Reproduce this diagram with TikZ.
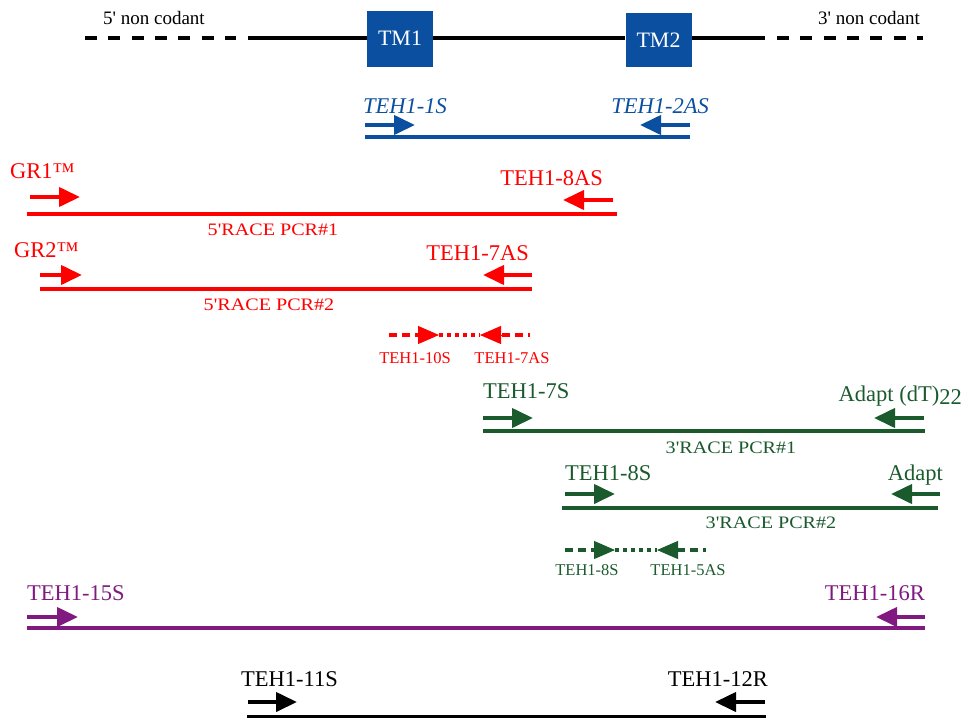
\documentclass[tikz,border=0pt]{standalone}
\usepackage{fontspec}
\setmainfont{Liberation Serif}
\usetikzlibrary{arrows.meta}
\definecolor{tmblue}{HTML}{0B50A0}
\definecolor{rred}{HTML}{FF0000}
\definecolor{rgreen}{HTML}{1A5A2D}
\definecolor{rpurple}{HTML}{801A80}
\tikzset{
  lab/.style={inner sep=0pt, font=\fontsize{22.5}{26}\selectfont},
  smalllab/.style={inner sep=0pt, font=\fontsize{16.5}{19}\selectfont},
  racelab/.style={inner sep=0pt, font=\fontsize{17.5}{20}\selectfont},
  toplab/.style={inner sep=0pt, font=\fontsize{19}{22}\selectfont},
  prim/.style={line width=4pt, -{Triangle[length=21pt,width=19pt]}},
  headonly/.style={line width=1pt, -{Triangle[length=21pt,width=18pt]}},
  amp/.style={line width=3.5pt},
  dashpart/.style={line width=3.5pt, dash pattern=on 8pt off 5pt},
  dotpart/.style={line width=3.5pt, dash pattern=on 4pt off 4pt},
  tmbox/.style={fill=tmblue, draw=none, minimum width=66pt, minimum height=56pt, inner sep=0pt, text=white, font=\fontsize{22}{25}\selectfont}
}
\begin{document}
\begin{tikzpicture}[x=1pt,y=-1pt]
\useasboundingbox (0,0) rectangle (965,718);

% ---------- gene line ----------
\node[tmbox] (tm1) at (400,38.5) {TM1};
\node[tmbox, minimum height=54pt] (tm2) at (658.5,40) {TM2};
\coordinate (d1a) at (85,38);
\coordinate (d1b) at (236,38);
\coordinate (s1) at (248,38);
\coordinate (s2) at (765,38);
\coordinate (d2a) at (777,38);
\coordinate (d2b) at (923,38);
\draw[line width=4pt, dash pattern=on 12pt off 11.3pt] (d1a) -- (d1b);
\draw[line width=4pt] (s1) -- (tm1.west |- s1);
\draw[line width=4pt] (tm1.east |- s1) -- (tm2.west |- s1);
\draw[line width=4pt] (tm2.east |- s1) -- (s2);
\draw[line width=4pt, dash pattern=on 12pt off 11.3pt] (d2a) -- (d2b);
\node[toplab, anchor=base west] (nc5) at (103,24) {5\textquotesingle{} non codant};
\node[toplab, anchor=base east] (nc3) at (920,24) {3\textquotesingle{} non codant};

% ---------- blue ----------
\begin{scope}[color=tmblue]
\node[lab, anchor=base west, font=\fontsize{22.5}{26}\selectfont\itshape] (b1) at (363,113) {TEH1-1S};
\node[lab, anchor=base east, font=\fontsize{22.5}{26}\selectfont\itshape] (b2) at (709,113) {TEH1-2AS};
\coordinate (b1s) at (365,125); \coordinate (b1t) at (415,125);
\coordinate (b2s) at (690,125); \coordinate (b2t) at (640,125);
\coordinate (bl1) at (365,137); \coordinate (bl2) at (690,137);
\draw[prim] (b1s) -- (b1t);
\draw[prim] (b2s) -- (b2t);
\draw[amp] (bl1) -- (bl2);
\end{scope}

% ---------- red ----------
\begin{scope}[color=rred]
\node[lab, anchor=base west] (gr1) at (10,178) {GR1™};
\node[lab, anchor=base east] (r8as) at (603,185) {TEH1-8AS};
\coordinate (g1s) at (30,197); \coordinate (g1t) at (80,197);
\coordinate (r8s) at (613,200); \coordinate (r8t) at (563,200);
\coordinate (rl1a) at (27,214); \coordinate (rl1b) at (617,214);
\draw[prim] (g1s) -- (g1t);
\draw[prim] (r8s) -- (r8t);
\draw[amp] (rl1a) -- (rl1b);
\node[racelab, anchor=base] (race51) at (273,235) {\scalebox{1.15}[1]{5\textquotesingle RACE PCR\#1}};

\node[lab, anchor=base west] (gr2) at (14,257) {GR2™};
\node[lab, anchor=base east] (r7as) at (529,260) {TEH1-7AS};
\coordinate (g2s) at (40,275); \coordinate (g2t) at (82,275);
\coordinate (r7s) at (532,275); \coordinate (r7t) at (483,275);
\coordinate (rl2a) at (40,289); \coordinate (rl2b) at (532,289);
\draw[prim] (g2s) -- (g2t);
\draw[prim] (r7s) -- (r7t);
\draw[amp] (rl2a) -- (rl2b);
\node[racelab, anchor=base] (race52) at (269,310) {\scalebox{1.15}[1]{5\textquotesingle RACE PCR\#2}};

\coordinate (rd1) at (389,335); \coordinate (rd2) at (418,335);
\coordinate (rd3) at (439,335); \coordinate (rd4) at (480,335);
\coordinate (rd5) at (502,335); \coordinate (rd6) at (530,335);
\draw[dashpart] (rd1) -- (rd2);
\draw[headonly] (rd2) -- (rd3);
\draw[dotpart] (rd3) -- (rd4);
\draw[headonly] (rd5) -- (rd4);
\draw[dashpart] (rd5) -- (rd6);
\node[smalllab, anchor=base] (r10s) at (415,363) {TEH1-10S};
\node[smalllab, anchor=base] (r7asb) at (512,363) {TEH1-7AS};
\end{scope}

% ---------- green ----------
\begin{scope}[color=rgreen]
\node[lab, anchor=base west] (g7s) at (483,398) {TEH1-7S};
\node[lab, anchor=base east] (gad1) at (962,401) {Adapt (dT)\raisebox{-3pt}{22}};
\coordinate (g7a) at (483,418); \coordinate (g7b) at (533,418);
\coordinate (ga1a) at (924,418); \coordinate (ga1b) at (874,418);
\coordinate (gl1a) at (483,431); \coordinate (gl1b) at (925,431);
\draw[prim] (g7a) -- (g7b);
\draw[prim] (ga1a) -- (ga1b);
\draw[amp] (gl1a) -- (gl1b);
\node[racelab, anchor=base] (race31) at (731,453) {\scalebox{1.15}[1]{3\textquotesingle RACE PCR\#1}};

\node[lab, anchor=base west] (g8s) at (565,480) {TEH1-8S};
\node[lab, anchor=base east] (gad2) at (943,480) {Adapt};
\coordinate (g8a) at (565,494); \coordinate (g8b) at (615,494);
\coordinate (ga2a) at (940,494); \coordinate (ga2b) at (891,494);
\coordinate (gl2a) at (562,508); \coordinate (gl2b) at (938,508);
\draw[prim] (g8a) -- (g8b);
\draw[prim] (ga2a) -- (ga2b);
\draw[amp] (gl2a) -- (gl2b);
\node[racelab, anchor=base] (race32) at (771,528) {\scalebox{1.15}[1]{3\textquotesingle RACE PCR\#2}};

\coordinate (gd1) at (565,550); \coordinate (gd2) at (595,550);
\coordinate (gd3) at (615,550); \coordinate (gd4) at (657,550);
\coordinate (gd5) at (677,550); \coordinate (gd6) at (706,550);
\draw[dashpart] (gd1) -- (gd2);
\draw[headonly] (gd2) -- (gd3);
\draw[dotpart] (gd3) -- (gd4);
\draw[headonly] (gd5) -- (gd4);
\draw[dashpart] (gd5) -- (gd6);
\node[smalllab, anchor=base] (g8sb) at (587,575) {TEH1-8S};
\node[smalllab, anchor=base] (g5as) at (688,575) {TEH1-5AS};
\end{scope}

% ---------- purple ----------
\begin{scope}[color=rpurple]
\node[lab, anchor=base west] (p15) at (27,600) {TEH1-15S};
\node[lab, anchor=base east] (p16) at (925,600) {TEH1-16R};
\coordinate (p15a) at (27,617); \coordinate (p15b) at (78,617);
\coordinate (p16a) at (925,617); \coordinate (p16b) at (876,617);
\coordinate (pla) at (27,628); \coordinate (plb) at (925,628);
\draw[prim] (p15a) -- (p15b);
\draw[prim] (p16a) -- (p16b);
\draw[amp] (pla) -- (plb);
\end{scope}

% ---------- black ----------
\node[lab, anchor=base west] (k11) at (241,686) {TEH1-11S};
\node[lab, anchor=base east] (k12) at (768,686) {TEH1-12R};
\coordinate (k11a) at (248,702); \coordinate (k11b) at (297,702);
\coordinate (k12a) at (765,702); \coordinate (k12b) at (715,702);
\coordinate (kla) at (247,716.5); \coordinate (klb) at (766,716.5);
\draw[prim] (k11a) -- (k11b);
\draw[prim] (k12a) -- (k12b);
\draw[line width=2.5pt] (kla) -- (klb);
\end{tikzpicture}
\end{document}
